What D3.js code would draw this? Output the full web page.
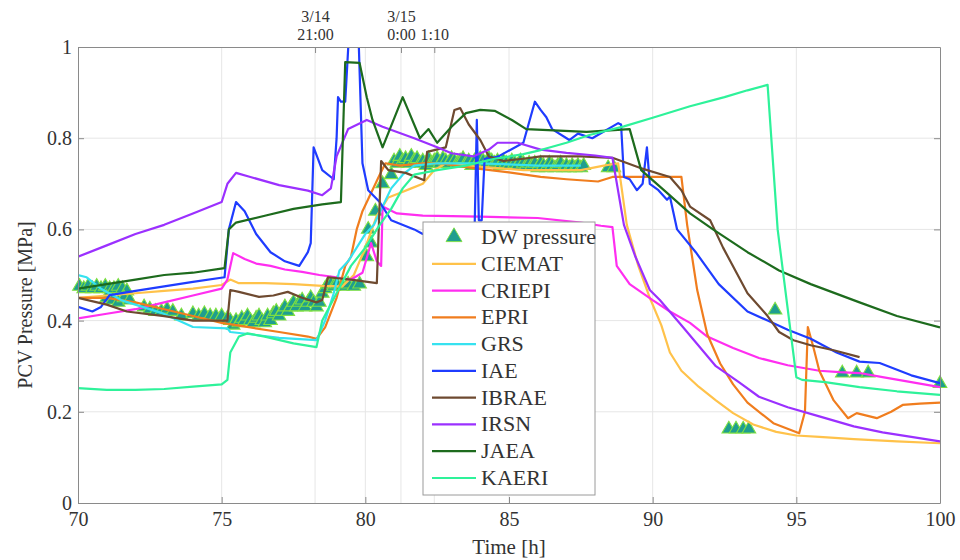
<!DOCTYPE html>
<html>
<head>
<meta charset="utf-8">
<script src="https://cdn.jsdelivr.net/npm/d3@7"></script>
<style>
  body { margin: 0; background: #fff; }
  svg text { font-family: "Liberation Serif", "Times New Roman", serif; fill: #333; }
</style>
</head>
<body>
<svg id="chart" width="960" height="560"></svg>
<script>
// ---- data: [time h, pressure MPa] ----
var dwPressure = [
  [70.05,0.475],[70.2,0.47],[70.35,0.475],[70.5,0.47],[70.65,0.475],[70.8,0.47],[70.95,0.475],[71.1,0.47],
  [71.25,0.47],[71.4,0.475],[71.55,0.47],[71.7,0.465],[71.0,0.45],[71.2,0.445],[71.4,0.44],[71.6,0.45],[71.8,0.445],
  [72.3,0.43],[72.5,0.425],[72.7,0.42],[72.9,0.42],[73.1,0.425],[73.3,0.42],[73.6,0.41],[74.0,0.415],
  [74.2,0.41],[74.4,0.415],[74.6,0.41],[74.8,0.41],[75.0,0.41],[75.2,0.405],
  [75.3,0.40],[75.4,0.39],[75.5,0.40],[75.6,0.395],[75.7,0.405],[75.8,0.40],[75.9,0.41],[76.0,0.40],
  [76.1,0.395],[76.2,0.405],[76.3,0.41],[76.4,0.40],[76.5,0.395],[76.6,0.41],[76.7,0.40],[76.8,0.415],
  [76.9,0.42],[77.0,0.41],[77.1,0.42],[77.2,0.43],[77.3,0.42],[77.4,0.43],[77.5,0.44],[77.6,0.43],
  [77.7,0.44],[77.8,0.445],[77.9,0.43],[78.0,0.44],[78.1,0.45],[78.2,0.44],[78.3,0.43],[78.4,0.44],
  [78.5,0.46],[78.6,0.47],[78.7,0.48],[78.8,0.48],[78.9,0.475],[79.0,0.48],[79.2,0.475],[79.4,0.48],
  [79.6,0.475],[79.8,0.48],
  [80.05,0.54],[80.1,0.60],[80.2,0.57],[80.35,0.64],[80.6,0.70],[80.9,0.72],
  [81.0,0.75],[81.1,0.745],[81.2,0.76],[81.3,0.75],[81.4,0.755],[81.5,0.745],[81.6,0.76],[81.7,0.75],
  [81.8,0.755],[81.9,0.745],[82.0,0.75],[82.1,0.74],[82.2,0.755],[82.3,0.745],[82.4,0.75],[82.5,0.755],
  [82.6,0.745],[82.7,0.755],[82.8,0.75],[82.9,0.745],[83.0,0.755],[83.1,0.75],[83.2,0.745],[83.3,0.75],
  [83.4,0.755],[83.5,0.745],[83.6,0.75],[83.7,0.74],[83.8,0.75],[83.9,0.745],[84.0,0.755],[84.1,0.75],
  [84.2,0.745],[84.3,0.755],[84.4,0.75],[84.5,0.745],[84.6,0.75],[84.7,0.74],[84.8,0.75],[84.9,0.745],
  [85.0,0.74],[85.1,0.75],[85.2,0.745],[85.3,0.74],[85.4,0.75],[85.5,0.745],[85.6,0.74],[85.7,0.745],
  [85.8,0.74],[85.9,0.745],[86.0,0.735],[86.1,0.745],[86.2,0.74],[86.3,0.735],[86.4,0.745],[86.5,0.74],
  [86.6,0.735],[86.7,0.74],[86.8,0.745],[86.9,0.735],[87.0,0.74],[87.1,0.735],[87.2,0.74],[87.3,0.735],
  [87.4,0.74],[87.5,0.735],[87.6,0.74],
  [88.45,0.735],[88.65,0.735],
  [92.65,0.162],[92.9,0.162],[93.15,0.162],[93.35,0.162],
  [94.26,0.423],
  [96.6,0.285],[97.1,0.285],[97.5,0.285],
  [100,0.262]
];

var ciemat = [
  [70,0.45],[71,0.455],[72,0.46],[73,0.465],[74,0.47],[75,0.478],[75.3,0.49],[75.6,0.482],[76.5,0.482],
  [77.5,0.48],[78.5,0.476],[79.2,0.475],[79.6,0.50],[80.0,0.56],[80.4,0.63],[80.8,0.67],[81.2,0.68],
  [81.6,0.69],[82.0,0.70],[82.4,0.73],[82.8,0.745],[83.5,0.74],[84.5,0.735],[85.5,0.73],[86.5,0.73],
  [87.5,0.73],[88.3,0.74],[88.8,0.745],[89.1,0.61],[89.5,0.52],[89.9,0.45],[90.3,0.39],[90.6,0.33],
  [91.0,0.29],[91.6,0.255],[92.2,0.225],[92.8,0.197],[93.5,0.172],[94.3,0.156],[95.0,0.148],[95.8,0.145],
  [97,0.14],[98.5,0.135],[100,0.131]
];

var criepi = [
  [70,0.405],[71,0.415],[72,0.425],[73,0.44],[74,0.455],[75,0.47],[75.2,0.49],[75.4,0.548],[75.8,0.535],
  [76.2,0.525],[76.7,0.52],[77.2,0.512],[77.8,0.507],[78.4,0.50],[79,0.495],[79.5,0.49],[79.9,0.505],
  [80.2,0.57],[80.4,0.53],[80.55,0.52],[80.6,0.65],[81.1,0.635],[82,0.63],[84,0.628],[86,0.625],
  [87.5,0.615],[88.2,0.608],[88.6,0.605],[88.75,0.52],[89.2,0.48],[90,0.445],[90.6,0.42],[91.3,0.395],
  [91.9,0.365],[92.8,0.34],[93.7,0.318],[94.7,0.302],[95.8,0.29],[96.5,0.287],[97.2,0.285],[98,0.276],
  [99,0.265],[100,0.254]
];

var epri = [
  [70,0.45],[71,0.45],[72,0.44],[73,0.425],[74,0.41],[75,0.395],[76,0.385],[77,0.375],[78,0.365],
  [78.3,0.36],[78.6,0.385],[79.0,0.45],[79.3,0.52],[79.5,0.54],[79.7,0.60],[79.9,0.64],[80.2,0.68],
  [80.5,0.72],[80.7,0.745],[81.2,0.74],[82,0.745],[82.6,0.745],[83.7,0.735],[85,0.725],[86.1,0.715],
  [87,0.71],[88.1,0.705],[88.6,0.715],[89.5,0.715],[91,0.715],[91.2,0.61],[91.55,0.467],[91.9,0.37],
  [92.35,0.306],[92.8,0.26],[93.3,0.22],[94.2,0.175],[95.1,0.153],[95.3,0.20],[95.4,0.386],[95.6,0.34],
  [95.8,0.29],[96.3,0.225],[96.8,0.186],[97.1,0.197],[97.8,0.186],[98.3,0.20],[98.7,0.215],[99.3,0.218],
  [100,0.22]
];

var grs = [
  [70,0.50],[70.3,0.495],[70.8,0.47],[71.5,0.445],[72.9,0.417],[74,0.386],[75.2,0.383],[75.3,0.375],
  [76,0.37],[77,0.362],[78.3,0.357],[78.6,0.40],[78.9,0.46],[79.1,0.51],[79.4,0.53],[80.0,0.59],
  [80.3,0.61],[80.9,0.69],[81.3,0.72],[81.7,0.74],[82.5,0.745],[84,0.745],[86,0.74],[87.5,0.74]
];

var iae = [
  [70,0.43],[70.5,0.42],[70.8,0.43],[71.1,0.456],[72,0.465],[73,0.475],[74,0.485],[75.1,0.495],
  [75.25,0.60],[75.5,0.66],[75.8,0.64],[76.2,0.59],[76.7,0.55],[77.2,0.53],[77.7,0.52],[78.0,0.55],
  [78.1,0.57],[78.2,0.78],[78.5,0.73],[78.9,0.71],[79.0,0.80],[79.05,0.89],[79.15,0.88],[79.3,0.88],
  [79.45,1.05],[79.55,1.05],[79.65,1.05],[79.75,1.05],[79.9,0.745],[80.1,0.686],[80.5,0.66],
  [80.9,0.62],[81.7,0.60],[82.0,0.59],[83,0.585],[83.8,0.59],[83.88,0.84],[83.95,0.62],[84.05,0.62],
  [84.15,0.755],[84.6,0.759],[85.5,0.79],[85.9,0.88],[86.1,0.862],[86.3,0.846],[86.5,0.82],[87.1,0.796],
  [87.4,0.81],[87.9,0.80],[88.8,0.833],[88.9,0.83],[89.0,0.715],[89.2,0.71],[89.45,0.686],[89.65,0.70],
  [89.8,0.78],[89.9,0.70],[90.2,0.686],[90.5,0.665],[90.6,0.672],[90.85,0.60],[91.5,0.55],[92.3,0.48],
  [93.3,0.42],[94.0,0.40],[94.7,0.38],[95.5,0.36],[96.4,0.33],[97.2,0.31],[97.9,0.307],[99,0.28],
  [100,0.263]
];

var ibrae = [
  [70,0.45],[71,0.435],[71.7,0.42],[73,0.41],[74,0.40],[75.2,0.40],[75.3,0.467],[75.6,0.463],
  [76.3,0.452],[76.8,0.455],[77.3,0.463],[77.8,0.45],[78.3,0.44],[78.5,0.445],[78.7,0.495],[79.5,0.49],
  [80.4,0.482],[80.55,0.75],[80.8,0.73],[81.4,0.724],[82.05,0.708],[82.15,0.77],[82.8,0.78],[83.1,0.862],
  [83.3,0.866],[83.6,0.83],[84,0.796],[84.3,0.76],[84.8,0.75],[85.5,0.755],[86.1,0.76],[87.5,0.76],
  [88.6,0.757],[89.55,0.735],[90.6,0.715],[91,0.686],[91.3,0.65],[92,0.62],[92.45,0.56],[93.3,0.46],
  [94,0.41],[94.4,0.375],[94.9,0.357],[95.5,0.346],[96.3,0.335],[97.2,0.32]
];

var irsn = [
  [70,0.54],[71,0.565],[72,0.59],[73,0.61],[74,0.635],[75,0.66],[75.2,0.70],[75.5,0.724],[76,0.715],
  [77,0.697],[78,0.685],[78.5,0.675],[78.8,0.69],[79.0,0.76],[79.4,0.82],[80.05,0.84],[80.6,0.825],
  [81.7,0.80],[82.5,0.78],[83,0.767],[83.75,0.76],[84.3,0.775],[84.6,0.79],[85.3,0.79],[86.1,0.775],
  [87,0.768],[88,0.762],[88.6,0.757],[89,0.61],[89.4,0.54],[89.9,0.467],[90.25,0.445],[91,0.39],
  [92.2,0.30],[93,0.265],[93.7,0.233],[94.7,0.21],[95.8,0.19],[97,0.168],[98,0.155],[99,0.145],
  [100,0.135]
];

var jaea = [
  [70,0.47],[71,0.48],[72,0.49],[73,0.50],[74,0.505],[75.1,0.515],[75.25,0.60],[75.5,0.615],
  [76.5,0.63],[77.5,0.645],[78.5,0.655],[79.15,0.66],[79.3,0.967],[79.8,0.965],[80.05,0.89],
  [80.25,0.84],[80.6,0.78],[81.3,0.89],[81.9,0.80],[82.2,0.82],[82.5,0.79],[83,0.825],[83.5,0.855],
  [84,0.862],[84.5,0.86],[85.1,0.84],[85.6,0.82],[87.7,0.814],[89.2,0.82],[89.6,0.73],[90.5,0.68],
  [91.3,0.635],[92.1,0.60],[93.3,0.55],[94.4,0.51],[95.5,0.48],[97.2,0.44],[98.5,0.41],[100,0.385]
];

var kaeri = [
  [70,0.252],[71,0.248],[72,0.248],[73,0.25],[74,0.255],[75,0.26],[75.2,0.27],[75.3,0.33],[75.6,0.365],
  [75.9,0.372],[76.5,0.365],[77.5,0.35],[78.3,0.342],[78.5,0.40],[79,0.46],[79.5,0.52],[80,0.56],
  [80.5,0.61],[80.9,0.645],[81.3,0.69],[81.7,0.72],[82.5,0.73],[83.5,0.74],[84.5,0.755],[85.5,0.765],
  [86.1,0.774],[87,0.79],[87.8,0.807],[89,0.826],[90,0.845],[91.3,0.87],[92.5,0.89],[93.3,0.905],
  [94,0.917],[94.35,0.60],[95.0,0.276],[95.2,0.27],[96,0.265],[97.2,0.254],[98.5,0.245],[100,0.237]
];

var seriesNames = ["CIEMAT", "CRIEPI", "EPRI", "GRS", "IAE", "IBRAE", "IRSN", "JAEA", "KAERI"];
var seriesData = [ciemat, criepi, epri, grs, iae, ibrae, irsn, jaea, kaeri];

var xTicks = [70, 75, 80, 85, 90, 95, 100];
var yTicks = [0, 0.2, 0.4, 0.6, 0.8, 1];
var topTickTimes = [78.25, 81.24, 82.4];
var topTickDate = ["3/14", "3/15", ""];
var topTickClock = ["21:00", "0:00", "1:10"];

// ---- styles ----
var colors = {
  CIEMAT: "#ffc24a", CRIEPI: "#ff2ef0", EPRI: "#f07d1e", GRS: "#36e2f0", IAE: "#1f3cff",
  IBRAE: "#6e4a30", IRSN: "#9b30ff", JAEA: "#1d6b1d", KAERI: "#2ef29a"
};
var dwFill = "#1f9e8f";
var dwEdge = "#7ee040";
var axisGray = "#8a8a8a";
var gridGray = "#e6e6e6";

var plot = {left: 78, right: 940, top: 47, bottom: 503};

var svg = d3.select("#chart");

var xScale = d3.scaleLinear().domain([70, 100]).range([plot.left, plot.right]);
var yScale = d3.scaleLinear().domain([0, 1]).range([plot.bottom, plot.top]);

svg.append("defs").append("clipPath")
   .attr("id", "plot-clip")
 .append("rect")
   .attr("x", plot.left)
   .attr("y", plot.top)
   .attr("width", plot.right - plot.left)
   .attr("height", plot.bottom - plot.top);

// Grid lines
var grid = svg.append("g").attr("class", "grid");
grid.selectAll(".hgrid")
    .data(yTicks.slice(1, -1))
    .enter().append("line")
    .attr("x1", plot.left).attr("x2", plot.right)
    .attr("y1", d => yScale(d)).attr("y2", d => yScale(d))
    .attr("stroke", gridGray);
grid.selectAll(".vgrid")
    .data(xTicks.slice(1, -1).concat(topTickTimes))
    .enter().append("line")
    .attr("y1", plot.top).attr("y2", plot.bottom)
    .attr("x1", d => xScale(d)).attr("x2", d => xScale(d))
    .attr("stroke", gridGray);

// DW pressure markers (drawn first, lines go over them)
svg.append("g")
   .selectAll("path")
   .data(dwPressure)
   .enter().append("path")
   .attr("transform", d => "translate(" + xScale(d[0]) + "," + yScale(d[1]) + ")")
   .attr("d", d3.symbol().type(d3.symbolTriangle).size(80))
   .attr("fill", dwFill)
   .attr("stroke", dwEdge)
   .attr("stroke-width", 1.1);

// Code result lines
var line = d3.line()
             .x(d => xScale(d[0]))
             .y(d => yScale(d[1]));

svg.append("g")
   .attr("clip-path", "url(#plot-clip)")
   .selectAll("path")
   .data(seriesData)
   .enter().append("path")
   .attr("d", line)
   .attr("fill", "none")
   .attr("stroke", (d, i) => colors[seriesNames[i]])
   .attr("stroke-width", 2.2)
   .attr("stroke-linejoin", "round");

// Axes
function styleAxis(g) {
  g.select(".domain").attr("stroke", axisGray);
  g.selectAll(".tick line").attr("stroke", axisGray);
  g.selectAll(".tick text").attr("fill", "#333").style("font-size", "20px")
   .style("font-family", "'Liberation Serif', serif");
}

svg.append("g")
   .attr("transform", "translate(0," + plot.bottom + ")")
   .call(d3.axisBottom(xScale).tickValues(xTicks).tickSize(-6).tickSizeOuter(0).tickPadding(9))
   .call(styleAxis);

svg.append("g")
   .attr("transform", "translate(" + plot.left + ",0)")
   .call(d3.axisLeft(yScale).tickValues(yTicks).tickFormat(d3.format("")).tickSize(-6).tickSizeOuter(0).tickPadding(6))
   .call(styleAxis);

svg.append("g")
   .attr("transform", "translate(" + plot.right + ",0)")
   .call(d3.axisRight(yScale).tickValues(yTicks).tickFormat("").tickSize(-6).tickSizeOuter(0))
   .call(styleAxis);

var topAxis = svg.append("g")
   .attr("transform", "translate(0," + plot.top + ")")
   .call(d3.axisTop(xScale).tickValues(topTickTimes).tickFormat("").tickSize(-6).tickSizeOuter(0))
   .call(styleAxis);

topAxis.selectAll(".tick").each(function(d, i) {
  var t = d3.select(this);
  t.append("text").attr("y", -25).attr("text-anchor", "middle")
   .style("font-size", "16px").attr("fill", "#333").text(topTickDate[i]);
  t.append("text").attr("y", -7).attr("text-anchor", "middle")
   .style("font-size", "16px").attr("fill", "#333").text(topTickClock[i]);
});

// Axis labels
svg.append("text")
   .attr("transform", "translate(32,305) rotate(-90)")
   .attr("text-anchor", "middle")
   .style("font-size", "20px")
   .text("PCV Pressure [MPa]");

svg.append("text")
   .attr("x", xScale(85))
   .attr("y", 554)
   .attr("text-anchor", "middle")
   .style("font-size", "21px")
   .text("Time [h]");

// Legend
var legend = svg.append("g").attr("transform", "translate(423,222)");
legend.append("rect")
      .attr("width", 172)
      .attr("height", 273)
      .attr("fill", "#fff")
      .attr("stroke", "#9a9a9a");

var rowY = d3.scaleLinear().domain([0, 9]).range([15, 256]);

legend.append("path")
      .attr("transform", "translate(31," + rowY(0) + ")")
      .attr("d", d3.symbol().type(d3.symbolTriangle).size(110))
      .attr("fill", dwFill)
      .attr("stroke", dwEdge)
      .attr("stroke-width", 0.9);
legend.append("text")
      .attr("x", 58).attr("y", rowY(0) + 7)
      .style("font-size", "22px")
      .text("DW pressure");

var rows = legend.selectAll(".row")
      .data(seriesNames)
      .enter().append("g")
      .attr("transform", (d, i) => "translate(0," + rowY(i + 1) + ")");
rows.append("line")
    .attr("x1", 9).attr("x2", 53)
    .attr("stroke", d => colors[d])
    .attr("stroke-width", 2.2);
rows.append("text")
    .attr("x", 58).attr("y", 7)
    .style("font-size", "22px")
    .text(d => d);
</script>
</body>
</html>
